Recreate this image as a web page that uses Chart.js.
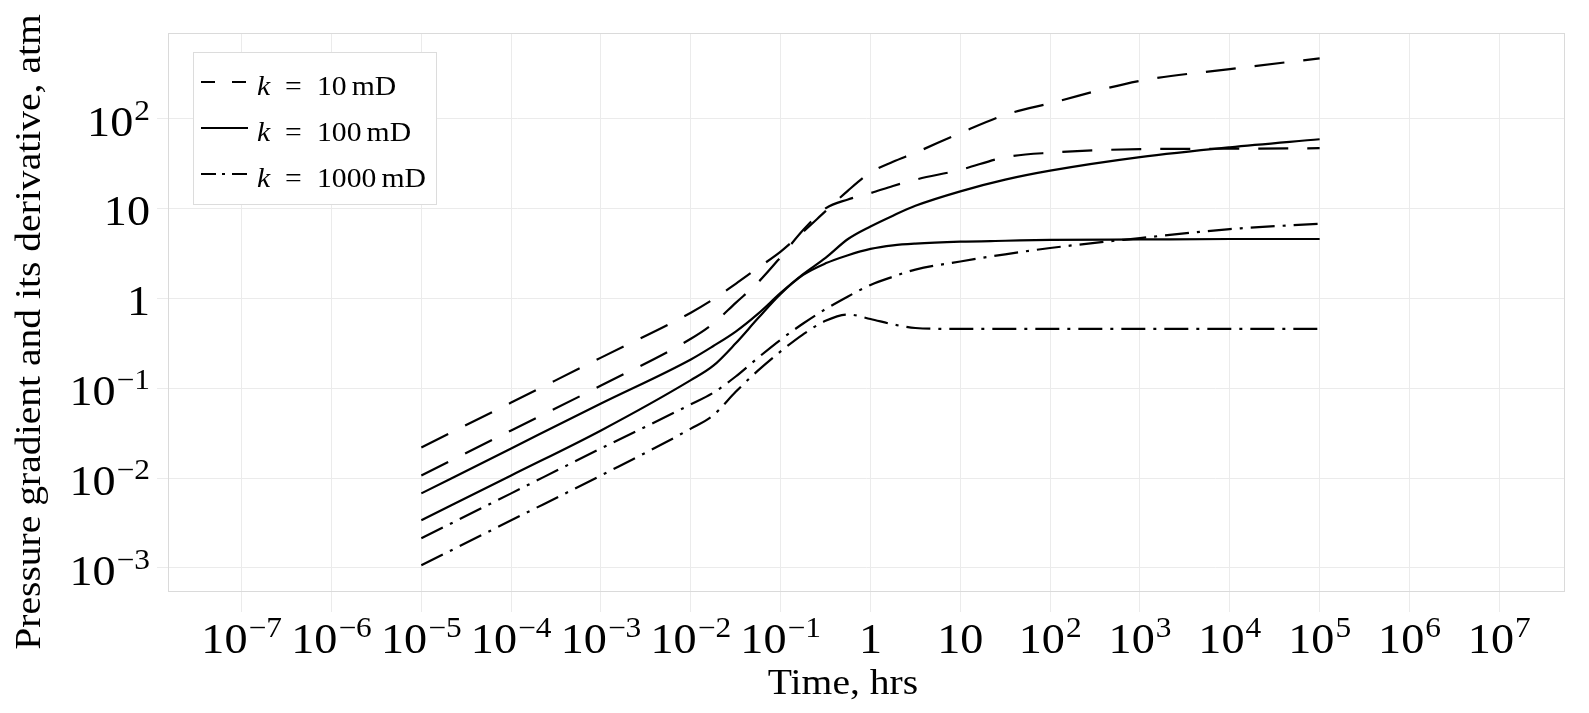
<!DOCTYPE html>
<html>
<head>
<meta charset="utf-8">
<script src="https://cdn.jsdelivr.net/npm/chart.js@4.4.1/dist/chart.umd.min.js"></script>
<style>
  html, body { margin: 0; padding: 0; background: #fff; }
  #wrap { width: 1589px; height: 713px; position: relative; }
</style>
</head>
<body>
<div id="wrap"><canvas id="myChart"></canvas></div>
<script>
// time, hrs
const time = [1e-5, 1e-4, 1e-3, 1e-2, 0.0178, 0.0316, 0.0562, 0.1, 0.178, 0.316, 0.562, 1, 1.78, 3.16, 10, 31.6, 100, 1000, 1e4, 1e5]

// k = 10 mD
const p10 = [0.0219, 0.0692, 0.219, 0.692, 0.977, 1.45, 2.19, 3.31, 5.50, 9.33, 15.8, 25.1, 33.1, 41.7, 69.2, 110, 148, 263, 355, 468]
const d10 = [0.0107, 0.0339, 0.107, 0.355, 0.525, 0.891, 1.51, 2.88, 5.75, 10.0, 12.6, 14.8, 17.8, 20.9, 26.9, 37.2, 41.7, 45.7, 46.2, 46.8]
// k = 100 mD
const p100 = [0.00676, 0.0214, 0.0676, 0.209, 0.295, 0.427, 0.676, 1.15, 1.86, 2.82, 4.57, 6.31, 8.32, 10.7, 15.5, 20.9, 26.3, 37.2, 47.9, 58.9]
const d100 = [0.00339, 0.0107, 0.0339, 0.123, 0.178, 0.316, 0.603, 1.12, 1.82, 2.45, 3.02, 3.55, 3.89, 4.07, 4.27, 4.37, 4.47, 4.52, 4.57, 4.57]
// k = 1000 mD
const p1000 = [0.00214, 0.00676, 0.0214, 0.0661, 0.0891, 0.135, 0.219, 0.347, 0.525, 0.759, 1.05, 1.41, 1.74, 2.09, 2.57, 3.09, 3.63, 4.68, 5.89, 6.76]
const d1000 = [0.00107, 0.00339, 0.0107, 0.0355, 0.0501, 0.0912, 0.158, 0.257, 0.398, 0.562, 0.661, 0.589, 0.513, 0.468, 0.457, 0.457, 0.457, 0.457, 0.457, 0.457]

const legendPerm = ['10', '100', '1000']

const xTickValues = [1e-7, 1e-6, 1e-5, 1e-4, 1e-3, 1e-2, 1e-1, 1, 10, 1e2, 1e3, 1e4, 1e5, 1e6, 1e7]
const xTickLabels = [
    ['10', '−7'], ['10', '−6'], ['10', '−5'], ['10', '−4'], ['10', '−3'], ['10', '−2'], ['10', '−1'],
    ['1', ''], ['10', ''], ['10', '2'], ['10', '3'], ['10', '4'], ['10', '5'], ['10', '6'], ['10', '7'],
]
const yTickValues = [1e-3, 1e-2, 1e-1, 1, 10, 1e2]
const yTickLabels = [['10', '−3'], ['10', '−2'], ['10', '−1'], ['1', ''], ['10', ''], ['10', '2']]

const FONT = "'Liberation Serif', 'DejaVu Serif', serif"
const SX = 1.1 // the original font is wider than Liberation Serif
const GRID = '#ebebeb'
const BORDER = '#dadada'
const DASHED = [30, 19]
const DASHDOT = [24, 8, 3, 8]

function series(values, dash) {
    return {
        data: time.map((t, i) => ({ x: t, y: values[i] })),
        borderColor: '#000',
        borderWidth: 2.2,
        borderDash: dash,
        borderCapStyle: 'butt',
        pointRadius: 0,
        fill: false,
        cubicInterpolationMode: 'monotone',
    }
}

// text drawn left-aligned at x, stretched horizontally by SX
function text(ctx, str, x, y) {
    ctx.save()
    ctx.translate(x, y)
    ctx.scale(SX, 1)
    ctx.textAlign = 'left'
    ctx.textBaseline = 'alphabetic'
    ctx.fillText(str, 0, 0)
    ctx.restore()
    return ctx.measureText(str).width * SX
}

function drawPow(ctx, lbl, x, y, align, size) {
    const supSize = size * 0.68
    ctx.font = size + 'px ' + FONT
    const wb = ctx.measureText(lbl[0]).width * SX
    ctx.font = supSize + 'px ' + FONT
    const ws = lbl[1] ? ctx.measureText(lbl[1]).width * SX + 1 : 0
    const total = wb + ws
    const x0 = align === 'right' ? x - total : x - total / 2
    ctx.font = size + 'px ' + FONT
    text(ctx, lbl[0], x0, y)
    if (lbl[1]) {
        ctx.font = supSize + 'px ' + FONT
        text(ctx, lbl[1], x0 + wb + 1, y - size * 0.38)
    }
}

const decorations = {
    id: 'decorations',
    afterDraw(chart) {
        const ctx = chart.ctx
        const a = chart.chartArea
        const xs = chart.scales.x
        const ys = chart.scales.y
        ctx.save()
        ctx.fillStyle = '#000'

        // top / right frame
        ctx.strokeStyle = BORDER
        ctx.lineWidth = 1
        ctx.strokeRect(Math.round(a.left) + 0.5, Math.round(a.top) + 0.5, Math.round(a.right - a.left), Math.round(a.bottom - a.top))

        // tick labels
        xTickValues.forEach((v, i) => drawPow(ctx, xTickLabels[i], xs.getPixelForValue(v), 653, 'center', 42))
        yTickValues.forEach((v, i) => drawPow(ctx, yTickLabels[i], 150, ys.getPixelForValue(v) + 17, 'right', 42))

        // axis titles
        ctx.font = '36px ' + FONT
        const xt = 'Time, hrs'
        text(ctx, xt, 843 - ctx.measureText(xt).width * SX / 2, 694)
        const yt = 'Pressure gradient and its derivative, atm'
        ctx.save()
        ctx.translate(40, 332)
        ctx.rotate(-Math.PI / 2)
        text(ctx, yt, -ctx.measureText(yt).width * SX / 2, 0)
        ctx.restore()

        // legend
        ctx.fillStyle = '#fff'
        ctx.fillRect(193, 52, 243, 152)
        ctx.strokeStyle = '#dcdcdc'
        ctx.strokeRect(193.5, 52.5, 243, 152)
        const dashes = [[14, 17], [], [15, 6, 3, 7]]
        const rows = [82, 128, 174]
        legendPerm.forEach((perm, i) => {
            const yb = rows[i] + 13
            ctx.strokeStyle = '#000'
            ctx.lineWidth = 2.2
            ctx.setLineDash(dashes[i])
            ctx.beginPath()
            ctx.moveTo(201, rows[i])
            ctx.lineTo(248, rows[i])
            ctx.stroke()
            ctx.setLineDash([])
            ctx.fillStyle = '#000'
            ctx.font = 'italic 27px ' + FONT
            text(ctx, 'k', 257, yb)
            ctx.font = '27px ' + FONT
            text(ctx, '=', 285, yb)
            const wn = text(ctx, perm, 317, yb)
            text(ctx, 'mD', 317 + wn + 5, yb)
        })
        ctx.restore()
    },
}

const ctx = document.getElementById('myChart').getContext('2d')

const myChart = new Chart(ctx, {
    type: 'line',
    data: {
        datasets: [
            series(p10, DASHED),
            series(d10, DASHED),
            series(p100, []),
            series(d100, []),
            series(p1000, DASHDOT),
            series(d1000, DASHDOT),
        ],
    },
    options: {
        responsive: true,
        maintainAspectRatio: false,
        animation: false,
        devicePixelRatio: 1,
        layout: { padding: { top: 33, right: 25, left: 0, bottom: 0 } },
        plugins: { legend: { display: false }, tooltip: { enabled: false } },
        scales: {
            x: {
                type: 'logarithmic',
                min: Math.pow(10, -7.82),
                max: Math.pow(10, 7.72),
                afterBuildTicks: (s) => { s.ticks = xTickValues.map(v => ({ value: v })) },
                afterFit: (s) => { s.height = 122 },
                ticks: { display: false },
                grid: { color: GRID, lineWidth: 1, drawTicks: true, tickLength: 21, tickColor: GRID },
                border: { display: true, color: BORDER, width: 1 },
            },
            y: {
                type: 'logarithmic',
                min: Math.pow(10, -3.256),
                max: Math.pow(10, 2.952),
                afterBuildTicks: (s) => { s.ticks = yTickValues.map(v => ({ value: v })) },
                afterFit: (s) => { s.width = 168 },
                ticks: { display: false },
                grid: { color: GRID, lineWidth: 1, drawTicks: true, tickLength: 11, tickColor: GRID },
                border: { display: true, color: BORDER, width: 1 },
            },
        },
    },
    plugins: [decorations],
});
</script>
</body>
</html>
